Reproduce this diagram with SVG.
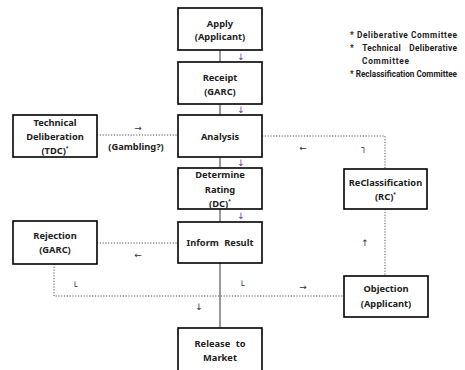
<svg xmlns="http://www.w3.org/2000/svg" width="465" height="370" viewBox="0 0 465 370">
<style>
.box{fill:#fff;stroke:#000;stroke-width:1.6}
.t{font-family:"Noto Sans","DejaVu Sans",sans-serif;font-weight:bold;font-size:9.3px;fill:#222;text-anchor:middle}
.lg{font-family:Roboto,"Noto Sans",sans-serif;font-weight:bold;font-size:8.3px;fill:#222}
.dot{fill:none;stroke:#555;stroke-width:1;stroke-dasharray:1.2 1.6}
.main{fill:none;stroke:#777;stroke-width:1.5}
.pa{font-family:"DejaVu Sans",sans-serif;font-size:9px;fill:#7030a0;text-anchor:middle}
.ba{font-family:"DejaVu Sans",sans-serif;font-size:9px;fill:#333;text-anchor:middle}
</style>
<rect width="465" height="370" fill="#fff"/>
<g id="connectors">
<line class="main" x1="220" y1="50" x2="220" y2="330"/>
<line class="dot" x1="97" y1="135" x2="178" y2="135"/>
<line class="dot" x1="97" y1="243" x2="178" y2="243"/>
<polyline class="dot" points="54,264 54,296 343,296"/>
<polyline class="dot" points="262,136 385,136 385,169"/>
<line class="dot" x1="385" y1="209" x2="385" y2="276"/>
<text class="pa" x="241" y="60">↓</text>
<text class="pa" x="241" y="113">↓</text>
<text class="pa" x="241" y="166">↓</text>
<text class="pa" x="241" y="219">↓</text>
<text class="ba" x="138" y="131">→</text>
<text class="t" x="136" y="150">(Gambling?)</text>
<text class="ba" x="138" y="258">←</text>
<text class="ba" x="75" y="290">└</text>
<text class="ba" x="242" y="289">└</text>
<text class="ba" x="303" y="290">→</text>
<text class="ba" x="199" y="310">↓</text>
<text class="ba" x="303" y="151">←</text>
<text class="ba" x="364" y="151">┐</text>
<text class="ba" x="365" y="246">↑</text>
</g>
<g id="apply"><rect class="box" x="178" y="8" width="84" height="42"/><text class="t" x="220" y="27">Apply</text><text class="t" x="220" y="40">(Applicant)</text></g>
<g id="receipt"><rect class="box" x="178" y="62" width="84" height="42"/><text class="t" x="220" y="81">Receipt</text><text class="t" x="220" y="95">(GARC)</text></g>
<g id="analysis"><rect class="box" x="178" y="115" width="84" height="42"/><text class="t" x="220" y="140">Analysis</text></g>
<g id="determine"><rect class="box" x="178" y="168" width="84" height="41"/><text class="t" x="220" y="178">Determine</text><text class="t" x="220" y="193">Rating</text><text class="t" x="220" y="207">(DC)<tspan font-size="5" dy="-4">*</tspan></text></g>
<g id="inform"><rect class="box" x="178" y="222" width="84" height="41"/><text class="t" x="220" y="246" word-spacing="3">Inform Result</text></g>
<g id="release"><rect class="box" x="178" y="328" width="84" height="46"/><text class="t" x="220" y="347" word-spacing="3">Release to</text><text class="t" x="220" y="361">Market</text></g>
<g id="tdc"><rect class="box" x="13" y="115" width="84" height="42"/><text class="t" x="55" y="126">Technical</text><text class="t" x="55" y="140">Deliberation</text><text class="t" x="55" y="154">(TDC)<tspan font-size="5" dy="-4">*</tspan></text></g>
<g id="rejection"><rect class="box" x="13" y="221" width="84" height="43"/><text class="t" x="55" y="239">Rejection</text><text class="t" x="55" y="253">(GARC)</text></g>
<g id="reclass"><rect class="box" x="344" y="169" width="83" height="40"/><text class="t" x="385.500" y="186">ReClassification</text><text class="t" x="385.500" y="200">(RC)<tspan font-size="5" dy="-4">*</tspan></text></g>
<g id="objection"><rect class="box" x="344" y="276" width="84" height="41"/><text class="t" x="386" y="292">Objection</text><text class="t" x="386" y="307">(Applicant)</text></g>
<g id="legend">
<text class="lg" x="350" y="38" textLength="107" lengthAdjust="spacing">* Deliberative Committee</text>
<text class="lg" x="350" y="51" textLength="107" lengthAdjust="spacing" word-spacing="6">* Technical Deliberative</text>
<text class="lg" x="362" y="64" textLength="47" lengthAdjust="spacing">Committee</text>
<text class="lg" x="350" y="77" textLength="107" lengthAdjust="spacingAndGlyphs">* Reclassification Committee</text>
</g>
</svg>
